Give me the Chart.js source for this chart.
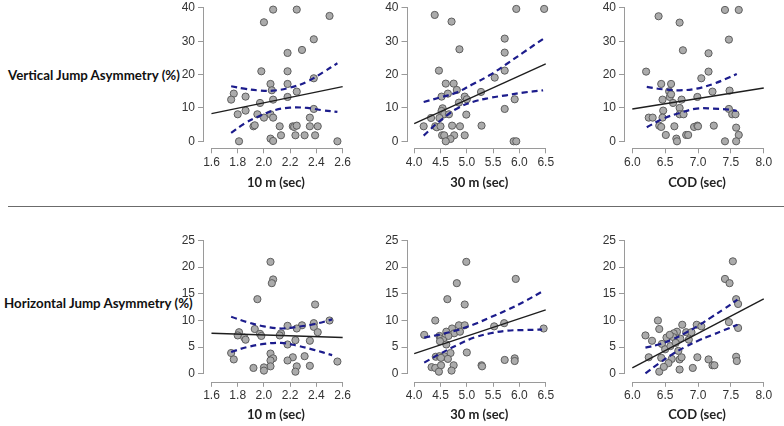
<!DOCTYPE html>
<html>
<head>
<meta charset="utf-8">
<script src="https://cdn.jsdelivr.net/npm/chart.js@4.4.1/dist/chart.umd.min.js"></script>
<style>
  html, body { margin: 0; padding: 0; background: #fff; }
  body { position: relative; width: 784px; height: 426px; overflow: hidden; }
  canvas { position: absolute; }
  .rowlab { position: absolute; font: bold 13.3px Lato, "Open Sans", sans-serif; color: #111; white-space: nowrap; line-height: 16px; }
  .sep { position: absolute; left: 8px; top: 206px; width: 776px; height: 0; border-top: 1.5px solid #6b6b6b; }
</style>
</head>
<body>
<div class="rowlab" style="left:8px;top:67px">Vertical Jump Asymmetry (%)</div>
<div class="sep"></div>
<div class="rowlab" style="left:4px;top:295px">Horizontal Jump Asymmetry (%)</div>
<canvas id="p1"></canvas>
<canvas id="p2"></canvas>
<canvas id="p3"></canvas>
<canvas id="p4"></canvas>
<canvas id="p5"></canvas>
<canvas id="p6"></canvas>
<script>
// tick labels
const xTicks10 = [1.6, 1.8, 2.0, 2.2, 2.4, 2.6];
const xTicks30 = [4.0, 4.5, 5.0, 5.5, 6.0, 6.5];
const xTicksCod = [6.0, 6.5, 7.0, 7.5, 8.0];
const yTicksVja = [0, 10, 20, 30, 40];
const yTicksHja = [0, 5, 10, 15, 20, 25];

// vertical jump asymmetry vs 10 m
const vja10X = [2.07,2.25,2.50,2.00,2.38,2.29,2.18,1.98,2.18,2.38,2.05,2.18,1.77,2.06,2.25,1.75,1.86,2.07,2.18,1.97,1.86,2.38,1.80,1.95,2.00,2.05,2.07,2.35,1.92,1.93,2.12,2.22,2.23,2.25,2.35,2.41,2.13,2.24,2.31,2.39,2.05,2.07,1.81,2.56];
const vja10Y = [39.5,39.5,37.6,35.7,30.6,27.4,26.5,21.0,21.0,18.9,17.2,17.2,14.3,15.3,14.9,12.5,13.4,12.5,13.3,11.5,9.2,9.7,8.1,8.1,7.1,8.1,7.1,7.1,4.5,4.8,4.5,4.5,4.3,4.7,4.5,4.5,1.8,1.8,1.8,1.8,0.8,0.1,0.0,0.0];
const vja10FitX = [1.6, 2.6];
const vja10FitY = [8.3, 16.4];
const vja10CiX = [1.75, 1.85, 1.95, 2.07, 2.2, 2.33, 2.45, 2.56];
const vja10Upper = [16.5, 15.8, 15.3, 15.2, 16.1, 17.9, 20.7, 23.4];
const vja10Lower = [2.5, 5.3, 7.3, 9.2, 10.1, 10.0, 9.3, 8.8];

// vertical jump asymmetry vs 30 m
const vja30X = [4.39,4.71,5.94,6.47,4.86,5.72,5.72,4.47,5.72,5.53,4.60,4.75,4.64,4.81,5.27,4.52,4.96,5.00,4.85,5.91,5.72,4.54,4.52,4.57,4.66,4.99,4.32,4.48,4.18,4.40,4.43,4.50,4.72,4.87,5.28,4.53,4.57,4.76,4.96,4.69,4.60,5.89,5.94];
const vja30Y = [37.9,35.9,39.7,39.7,27.6,30.8,26.6,21.2,21.2,19.1,17.3,17.3,14.3,15.4,14.8,13.4,13.4,12.6,11.6,12.6,9.7,9.9,9.1,8.1,8.1,8.0,7.0,7.0,4.5,4.5,4.2,4.5,4.7,4.5,4.7,1.8,1.8,1.8,1.8,0.7,0.0,0.0,0.0];
const vja30FitX = [4.0, 6.5];
const vja30FitY = [5.3, 23.2];
const vja30CiX = [4.18, 4.48, 4.8, 5.11, 5.43, 5.75, 6.07, 6.45];
const vja30Upper = [11.8, 13.1, 14.6, 17.1, 19.8, 23.1, 26.6, 30.7];
const vja30Lower = [1.7, 6.0, 9.7, 11.8, 13.0, 13.8, 14.6, 15.3];

// vertical jump asymmetry vs COD
const vjaCodX = [6.40,6.72,7.41,7.62,7.47,6.77,7.16,6.21,7.16,7.05,6.44,6.59,6.56,6.57,6.59,6.46,6.75,6.99,7.22,7.48,6.62,6.72,6.47,7.47,6.72,6.78,7.52,7.57,6.25,6.31,6.46,6.41,6.44,6.64,6.94,6.99,7.00,7.24,7.58,6.51,6.82,6.85,7.62,6.67,6.68,7.41,7.58];
const vjaCodY = [37.5,35.6,39.4,39.4,30.5,27.3,26.4,20.9,20.9,18.9,17.2,17.2,15.0,13.3,14.1,12.5,12.5,13.3,14.9,15.2,11.5,10.0,9.2,9.7,8.1,8.1,8.1,8.1,7.1,7.1,7.1,4.7,4.3,4.5,4.3,4.7,4.5,4.7,4.1,1.9,1.9,1.9,1.9,0.8,0.0,0.0,0.0];
const vjaCodFitX = [6.0, 8.0];
const vjaCodFitY = [9.7, 16.0];
const vjaCodCiX = [6.22, 6.47, 6.72, 6.98, 7.23, 7.48, 7.59];
const vjaCodUpper = [16.3, 15.6, 15.3, 15.8, 17.2, 19.2, 20.2];
const vjaCodLower = [4.2, 6.8, 8.5, 9.8, 9.8, 9.5, 9.1];

// horizontal jump asymmetry vs 10 m
const hja10X = [2.05,2.07,2.06,1.95,2.39,2.50,2.38,2.38,2.18,2.29,2.25,1.93,1.81,1.80,1.85,1.86,1.97,1.98,2.13,2.12,2.41,2.18,2.24,2.35,1.75,2.05,2.07,2.05,1.77,2.22,2.31,2.18,2.56,2.05,2.25,2.35,1.92,2.00,2.00,2.24];
const hja10Y = [21.0,17.7,17.0,14.0,13.0,10.0,9.5,8.8,9.0,9.1,8.5,8.4,7.8,7.2,6.8,6.4,7.5,7.1,7.6,7.2,7.8,5.5,6.3,6.2,3.9,3.8,2.9,2.5,2.7,3.1,3.3,2.5,2.3,1.4,1.4,1.5,1.1,1.2,0.6,0.4];
const hja10FitX = [1.6, 2.6];
const hja10FitY = [7.6, 6.8];
const hja10CiX = [1.75, 1.87, 2.0, 2.13, 2.25, 2.38, 2.52];
const hja10Upper = [10.7, 9.7, 8.9, 8.5, 8.8, 9.3, 10.2];
const hja10Lower = [4.1, 5.0, 5.6, 5.8, 5.3, 4.5, 3.5];

// horizontal jump asymmetry vs 30 m
const hja30X = [4.99,4.81,5.93,4.63,4.96,4.40,4.85,4.96,4.72,4.61,4.76,4.87,4.19,4.48,4.65,5.52,5.71,6.46,4.50,4.55,4.49,4.61,5.00,4.69,4.41,4.48,4.57,4.51,4.64,5.72,5.91,5.91,4.33,4.40,4.51,4.75,5.28,5.29,4.71,4.47];
const hja30Y = [21.0,17.0,17.8,14.0,13.0,10.0,9.1,9.1,8.5,7.9,7.6,7.9,7.3,7.1,7.1,8.9,9.5,8.5,6.6,6.3,6.1,5.5,4.0,3.9,3.2,3.3,3.3,3.0,2.8,2.6,2.9,2.4,1.25,1.1,1.6,1.6,1.6,1.4,0.6,0.4];
const hja30FitX = [4.0, 6.5];
const hja30FitY = [3.8, 12.0];
const hja30CiX = [4.19, 4.5, 4.82, 5.14, 5.45, 5.77, 6.08, 6.43];
const hja30Upper = [6.8, 7.4, 8.2, 9.3, 10.6, 12.0, 13.5, 15.4];
const hja30Lower = [2.1, 3.8, 5.4, 6.8, 7.6, 8.1, 8.2, 8.3];

// horizontal jump asymmetry vs COD
const hjaCodX = [7.53,7.41,7.48,7.58,7.61,7.47,7.61,6.76,6.98,7.05,6.68,6.82,6.63,6.73,6.86,6.99,7.16,7.22,7.25,6.92,6.72,6.72,6.75,6.60,7.58,7.59,6.20,6.30,6.25,6.39,6.41,6.41,6.45,6.50,6.52,6.55,6.58,6.62,6.48,6.44,6.66,6.70,6.57,6.90];
const hjaCodY = [21.1,17.8,17.0,14.0,13.1,9.7,8.6,9.2,9.2,8.9,7.9,7.8,7.6,6.6,6.4,3.1,2.7,1.6,1.6,1.1,0.8,2.7,3.1,2.8,3.2,2.4,7.2,6.2,3.1,10.0,8.4,0.4,5.6,4.6,6.8,2.0,5.2,6.9,1.3,3.0,5.8,4.3,7.3,7.8];
const hjaCodFitX = [6.0, 8.0];
const hjaCodFitY = [1.1, 14.05];
const hjaCodCiX = [6.2, 6.4, 6.6, 6.8, 7.0, 7.2, 7.4, 7.6];
const hjaCodUpper = [4.9, 5.5, 6.4, 7.6, 9.0, 10.6, 12.2, 13.9];
const hjaCodLower = [0.1, 1.9, 3.6, 5.0, 6.2, 7.2, 8.2, 9.2];

const axisGrey = '#9a9a9a';
const tickFont = { family: '"Liberation Sans", Arial, sans-serif', size: 12 };
const titleFont = { family: 'Lato, "Open Sans", sans-serif', size: 13, weight: 'bold' };

function pairs(xs, ys) {
  return xs.map((x, i) => ({ x: x, y: ys[i] }));
}

// R style axes: the line only runs from the first to the last tick
const rAxes = {
  id: 'rAxes',
  beforeDatasetsDraw(chart) {
    const { ctx, chartArea, scales } = chart;
    const x = scales.x, y = scales.y;
    const xt = x.ticks, yt = y.ticks;
    const by = Math.round(chartArea.bottom) + 0.5;
    const lx = Math.round(chartArea.left) - 0.5;
    ctx.save();
    ctx.strokeStyle = axisGrey;
    ctx.lineWidth = 1;
    ctx.beginPath();
    ctx.moveTo(x.getPixelForValue(xt[0].value), by);
    ctx.lineTo(x.getPixelForValue(xt[xt.length - 1].value), by);
    ctx.moveTo(lx, y.getPixelForValue(yt[0].value));
    ctx.lineTo(lx, y.getPixelForValue(yt[yt.length - 1].value));
    ctx.stroke();
    ctx.restore();
  }
};

function drawPanel(id, box, xRange, yRange, xTicks, yTicks, xLabel, titlePad,
                   ptsX, ptsY, fitX, fitY, ciX, ciUp, ciLo) {
  const canvas = document.getElementById(id);
  const left = Math.floor(box.left - 45), top = Math.floor(box.top - 12);
  const right = Math.ceil(box.right + 16), bottom = Math.ceil(box.bottom + 50);
  canvas.width = right - left;
  canvas.height = bottom - top;
  canvas.style.left = left + 'px';
  canvas.style.top = top + 'px';

  const ciStyle = {
    type: 'line', showLine: true, borderColor: '#1c1c8c', borderWidth: 2.2,
    borderDash: [6, 4], pointRadius: 0, tension: 0.4, fill: false
  };

  new Chart(canvas, {
    type: 'scatter',
    data: {
      datasets: [
        Object.assign({ data: pairs(ciX, ciUp) }, ciStyle),
        Object.assign({ data: pairs(ciX, ciLo) }, ciStyle),
        {
          type: 'line', data: pairs(fitX, fitY), showLine: true, borderColor: '#1e1e1e',
          borderWidth: 1.4, pointRadius: 0, fill: false
        },
        {
          data: pairs(ptsX, ptsY), pointRadius: 3.6, backgroundColor: '#ababab',
          borderColor: '#5e5e5e', borderWidth: 1
        }
      ]
    },
    options: {
      responsive: false,
      animation: false,
      events: [],
      layout: {
        padding: {
          left: box.left - 45 - left,
          right: right - box.right,
          top: box.top - top,
          bottom: bottom - box.bottom - 50
        }
      },
      plugins: { legend: { display: false }, tooltip: { enabled: false } },
      scales: {
        x: {
          type: 'linear', min: xRange[0], max: xRange[1],
          afterBuildTicks: s => { s.ticks = xTicks.map(v => ({ value: v })); },
          afterFit: s => { s.height = 50; },
          border: { display: false },
          grid: { display: true, drawOnChartArea: false, drawTicks: true, tickLength: 5, color: axisGrey },
          ticks: { autoSkip: false, maxRotation: 0, padding: 2, color: '#333', font: tickFont,
                   callback: v => v.toFixed(1) },
          title: { display: true, text: xLabel, color: '#222', font: titleFont,
                   padding: { top: 0, bottom: titlePad } }
        },
        y: {
          type: 'linear', min: yRange[0], max: yRange[1],
          afterBuildTicks: s => { s.ticks = yTicks.map(v => ({ value: v })); },
          afterFit: s => { s.width = 45; },
          border: { display: false },
          grid: { display: true, drawOnChartArea: false, drawTicks: true, tickLength: 6, color: axisGrey },
          ticks: { autoSkip: false, padding: 3, color: '#333', font: tickFont,
                   callback: v => String(v) }
        }
      }
    },
    plugins: [rAxes]
  });
}

drawPanel('p1', { left: 204, right: 347.9, top: 2.6, bottom: 148.3 }, [1.543, 2.64], [-2.1, 41.6],
  xTicks10, yTicksVja, '10 m (sec)', 7.5,
  vja10X, vja10Y, vja10FitX, vja10FitY, vja10CiX, vja10Upper, vja10Lower);
drawPanel('p2', { left: 407.5, right: 551, top: 2.6, bottom: 148.3 }, [3.8726, 6.6], [-2.1, 41.6],
  xTicks30, yTicksVja, '30 m (sec)', 7.5,
  vja30X, vja30Y, vja30FitX, vja30FitY, vja30CiX, vja30Upper, vja30Lower);
drawPanel('p3', { left: 625, right: 769, top: 2.6, bottom: 148.3 }, [5.8889, 8.08], [-2.1, 41.6],
  xTicksCod, yTicksVja, 'COD (sec)', 7.5,
  vjaCodX, vjaCodY, vjaCodFitX, vjaCodFitY, vjaCodCiX, vjaCodUpper, vjaCodLower);
drawPanel('p4', { left: 204, right: 347.9, top: 235.2, bottom: 381.8 }, [1.543, 2.64], [-1.5, 26],
  xTicks10, yTicksHja, '10 m (sec)', 9.5,
  hja10X, hja10Y, hja10FitX, hja10FitY, hja10CiX, hja10Upper, hja10Lower);
drawPanel('p5', { left: 407.5, right: 551, top: 235.2, bottom: 381.8 }, [3.8726, 6.6], [-1.5, 26],
  xTicks30, yTicksHja, '30 m (sec)', 9.5,
  hja30X, hja30Y, hja30FitX, hja30FitY, hja30CiX, hja30Upper, hja30Lower);
drawPanel('p6', { left: 625, right: 769, top: 235.2, bottom: 381.8 }, [5.8889, 8.08], [-1.5, 26],
  xTicksCod, yTicksHja, 'COD (sec)', 9.5,
  hjaCodX, hjaCodY, hjaCodFitX, hjaCodFitY, hjaCodCiX, hjaCodUpper, hjaCodLower);
</script>
</body>
</html>
